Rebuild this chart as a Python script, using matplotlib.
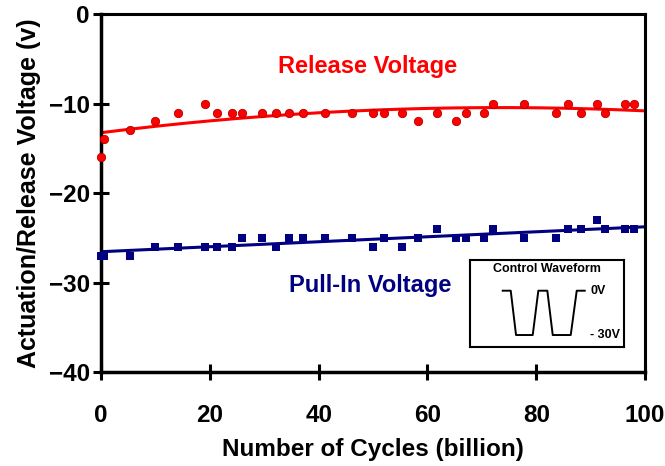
import matplotlib.pyplot as plt
import numpy as np

plt.rcParams['font.family'] = ['Liberation Sans', 'DejaVu Sans']
plt.rcParams['font.weight'] = 'bold'

# cycle counts (billion) where both voltages were measured
cycles = [0, 0.6, 5.4, 10, 14.1, 19.1, 21.3, 24.1, 25.9, 29.6, 32.1, 34.5,
          37.1, 41.1, 46.1, 50.0, 52.1, 55.4, 58.2, 61.8, 65.3, 67.0, 70.4,
          72.1, 77.8, 83.6, 85.8, 88.2, 91.2, 92.7, 96.3, 97.9]
release_v = [-16, -14, -13, -12, -11, -10, -11, -11, -11, -11, -11, -11,
             -11, -11, -11, -11, -11, -11, -12, -11, -12, -11, -11,
             -10, -10, -11, -10, -11, -10, -11, -10, -10]
pullin_v = [-27, -27, -27, -26, -26, -26, -26, -26, -25, -25, -26, -25,
            -25, -25, -25, -26, -25, -26, -25, -24, -25, -25, -25,
            -24, -25, -25, -24, -24, -23, -24, -24, -24]

# control waveform sketch: time (arbitrary) vs voltage
wave_t = [0, 8, 13.3, 30, 35.6, 44.6, 50, 68, 74, 82]
wave_v = [0, 0, -30, -30, 0, 0, -30, -30, 0, 0]

fig = plt.figure(figsize=(6.65, 4.66), dpi=100)
ax = fig.add_axes([0.152, 0.2017, 0.818, 0.768])

x = np.array(cycles)
xs = np.linspace(0, 100, 200)
red_fit = np.polyfit(x, release_v, 2)
blue_fit = np.polyfit(x, pullin_v, 1)

ax.plot(xs, np.polyval(red_fit, xs), color='#ff0000', lw=2.2, zorder=2)
ax.plot(xs, np.polyval(blue_fit, xs), color='#000080', lw=2.2, zorder=2)
ax.plot(x, release_v, 'o', ms=6, mfc='#ff0000', mec='#b00000', mew=0.6,
        clip_on=False, zorder=3)
ax.plot(x, pullin_v, 's', ms=5.2, mfc='#000080', mec='#000080', mew=0,
        clip_on=False, zorder=3)

ax.set_xlim(0, 100)
ax.set_ylim(-40, 0)
ax.set_xticks(range(0, 101, 20))
ax.set_yticks(range(-40, 1, 10))
for side in ['left', 'bottom']:
    ax.spines[side].set_linewidth(2.5)
for side in ['right', 'top']:
    ax.spines[side].set_linewidth(2.2)
ax.tick_params(axis='both', direction='inout', length=12, width=2.2,
               labelsize=17.5)
ax.tick_params(axis='x', pad=17)
ax.tick_params(axis='y', pad=2)

ax.set_xlabel('Number of Cycles (billion)', fontsize=17.5, fontweight='bold',
              labelpad=8)
ax.set_ylabel('Actuation/Release Voltage (v)', fontsize=18, fontweight='bold',
              labelpad=6)

ax.text(49, -5.8, 'Release Voltage', color='#ff0000', fontsize=17,
        fontweight='bold', ha='center', va='center')
ax.text(49.5, -30.3, 'Pull-In Voltage', color='#000080', fontsize=17,
        fontweight='bold', ha='center', va='center')

# inset showing the actuation waveform
ins = fig.add_axes([0.7068, 0.2554, 0.2316, 0.1867])
ins.plot(wave_t, wave_v, color='black', lw=1.4)
ins.set_xlim(-32.7, 121.3)
ins.set_ylim(-38.1, 20.8)
ins.set_xticks([])
ins.set_yticks([])
for s in ins.spines.values():
    s.set_linewidth(1.5)
ins.text(0.5, 0.9, 'Control Waveform', transform=ins.transAxes, fontsize=9,
         fontweight='bold', ha='center', va='center')
ins.text(88, 0, '0V', fontsize=9, fontweight='bold', va='center')
ins.text(87, -30, '- 30V', fontsize=9, fontweight='bold', va='center')

fig.savefig('out.png', dpi=100)
